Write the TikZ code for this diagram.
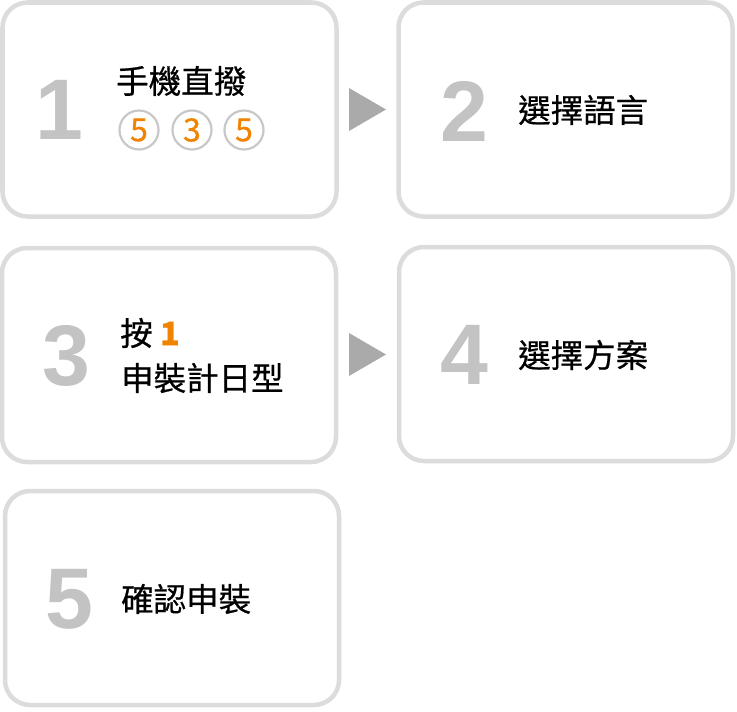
\documentclass[tikz,border=0pt]{standalone}
\usepackage{fontspec}
\setmainfont{Noto Sans CJK TC}
\newfontfamily\stepfont{Noto Sans CJK TC}[FakeBold=0.6]
\newfontfamily\bignumfont{Liberation Sans}
\usetikzlibrary{calc}

\definecolor{framegray}{HTML}{DCDCDC}
\definecolor{numgray}{HTML}{C3C3C3}
\definecolor{markgray}{HTML}{AAAAAA}
\definecolor{ringgray}{HTML}{C8C8C8}
\definecolor{keyorange}{HTML}{F08300}

\tikzset{
  stepbox/.style={draw=framegray, line width=4.5pt, fill=white, rounded corners=25pt,
    minimum width=334pt, minimum height=214pt, inner sep=0pt},
  bignum/.style={text=numgray, inner sep=0pt,
    font=\bignumfont\bfseries\fontsize{86}{86}\selectfont},
  steptext/.style={anchor=west, inner sep=0pt, align=left,
    font=\stepfont\fontsize{32.5}{45}\selectfont},
  keyring/.style={circle, draw=ringgray, line width=2.2pt, minimum size=39pt,
    inner sep=0pt, text=keyorange, font=\stepfont\fontsize{32}{32}\selectfont},
}

\newcommand{\NextMark}[1]{%
  \fill[markgray] (#1) ++(-18.5,-21.5) -- ++(37,21.5) -- ++(-37,21.5) -- cycle;
}

\begin{document}
\begin{tikzpicture}[x=1pt, y=-1pt]
  \useasboundingbox (0,0) rectangle (737,712);
  \node[stepbox] (box1) at (169.5,109.5) {};
  \node[stepbox] (box2) at (565.5,109.5) {};
  \node[stepbox] (box3) at (169,355) {};
  \node[stepbox] (box4) at (566,354) {};
  \node[stepbox] (box5) at (172,598) {};

  \coordinate (mark1) at ($(box1.east)!0.5!(box2.west)$);
  \coordinate (mark2) at ($(box3.east)!0.5!(box4.west)$);
  \NextMark{mark1}
  \NextMark{mark2}

  % step 1
  \node[bignum] (num1) at (59,110) {1};
  \node[steptext] (txt1) at (116,81) {手機直撥};
  \node[keyring] (ring1) at (139,130) {5};
  \node[keyring] (ring2) at (192,130) {3};
  \node[keyring] (ring3) at (244,130) {5};

  % step 2
  \node[bignum] (num2) at (464.5,111) {2};
  \node[steptext] (txt2) at (518,110) {選擇語言};

  % step 3
  \node[bignum] (num3) at (66,356) {3};
  \node[steptext] (txt3a) at (120,333) {按 {\bfseries\color{keyorange}1}};
  \node[steptext] (txt3b) at (121,378) {申裝計日型};

  % step 4
  \node[bignum] (num4) at (464,355) {4};
  \node[steptext] (txt4) at (518,355) {選擇方案};

  % step 5
  \node[bignum] (num5) at (69,599) {5};
  \node[steptext] (txt5) at (121,599) {確認申裝};
\end{tikzpicture}
\end{document}
